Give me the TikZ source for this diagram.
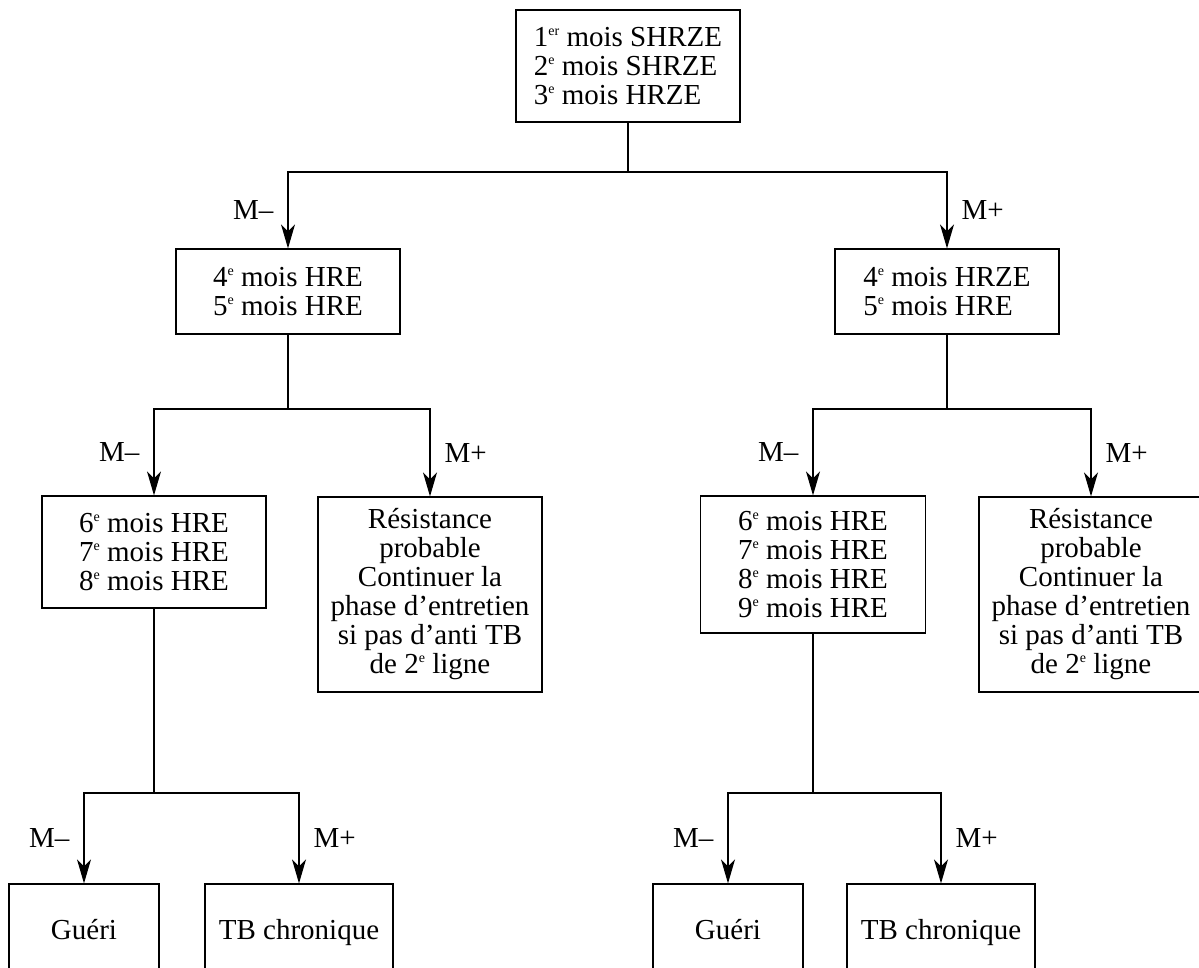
\documentclass[tikz,border=0pt]{standalone}
\usepackage{fontspec}
\setmainfont{Liberation Serif}
\usetikzlibrary{arrows.meta}
\newcommand\expo[1]{\raisebox{0.85ex}{\fontsize{14}{14}\selectfont #1}}
\begin{document}
\begin{tikzpicture}[x=1pt,y=-1pt,
  txt/.style={font=\fontsize{29}{29}\selectfont},
  box/.style={txt, draw, line width=1.2pt, inner sep=0pt},
  single/.style={text height=29pt, text depth=6pt},
  ln/.style={line width=1.2pt},
  arr/.style={ln, -{Stealth[length=24pt,width=14pt,inset=7pt]}},
  lblL/.style={txt, left, inner sep=0pt, xshift=-14pt},
  lblR/.style={txt, right, inner sep=0pt, xshift=14pt}]
\clip (0,0) rectangle (1199,967);
% boxes
\node[box, minimum width=224pt, minimum height=112pt, align=left] (top) at (628,66)
  {1\expo{er} mois SHRZE\\2\expo{e} mois SHRZE\\3\expo{e} mois HRZE};
\node[box, minimum width=224pt, minimum height=85pt, align=left] (L2) at (288,291.5)
  {4\expo{e} mois HRE\\5\expo{e} mois HRE};
\node[box, minimum width=224pt, minimum height=85pt, align=left] (R2) at (947,291.5)
  {4\expo{e} mois HRZE\\5\expo{e} mois HRE};
\node[box, minimum width=224pt, minimum height=112pt, align=left] (L3) at (154,552)
  {6\expo{e} mois HRE\\7\expo{e} mois HRE\\8\expo{e} mois HRE};
\node[box, minimum width=224pt, minimum height=195pt, align=center] (RL) at (430,594.5)
  {Résistance\\probable\\Continuer la\\phase d’entretien\\si pas d’anti TB\\de 2\expo{e} ligne};
\node[box, minimum width=225pt, minimum height=137pt, align=left] (R3) at (813,564.5)
  {6\expo{e} mois HRE\\7\expo{e} mois HRE\\8\expo{e} mois HRE\\9\expo{e} mois HRE};
\node[box, minimum width=224pt, minimum height=195pt, align=center] (RR) at (1091,594.5)
  {Résistance\\probable\\Continuer la\\phase d’entretien\\si pas d’anti TB\\de 2\expo{e} ligne};
\node[box, single, minimum width=150pt, minimum height=88pt] (GL) at (84,928) {Guéri};
\node[box, single, minimum width=188pt, minimum height=88pt] (TL) at (299,928) {TB chronique};
\node[box, single, minimum width=150pt, minimum height=88pt] (GR) at (728,928) {Guéri};
\node[box, single, minimum width=188pt, minimum height=88pt] (TR) at (941,928) {TB chronique};
% junctions
\coordinate (j1) at (628,172);
\coordinate (j2) at (288,409);
\coordinate (j3) at (947,409);
\coordinate (j4) at (154,793);
\coordinate (j5) at (813,793);
% connectors
\draw[ln] (top.south) -- (j1);
\draw[arr] (j1) -| node[lblL, pos=0.75]{M–} (L2.north);
\draw[arr] (j1) -| node[lblR, pos=0.75]{M+} (R2.north);
\draw[ln] (L2.south) -- (j2);
\draw[arr] (j2) -| node[lblL, pos=0.75]{M–} (L3.north);
\draw[arr] (j2) -| node[lblR, pos=0.75]{M+} (RL.north);
\draw[ln] (R2.south) -- (j3);
\draw[arr] (j3) -| node[lblL, pos=0.75]{M–} (R3.north);
\draw[arr] (j3) -| node[lblR, pos=0.75]{M+} (RR.north);
\draw[ln] (L3.south) -- (j4);
\draw[arr] (j4) -| node[lblL, pos=0.75]{M–} (GL.north);
\draw[arr] (j4) -| node[lblR, pos=0.75]{M+} (TL.north);
\draw[ln] (R3.south) -- (j5);
\draw[arr] (j5) -| node[lblL, pos=0.75]{M–} (GR.north);
\draw[arr] (j5) -| node[lblR, pos=0.75]{M+} (TR.north);
\end{tikzpicture}
\end{document}
